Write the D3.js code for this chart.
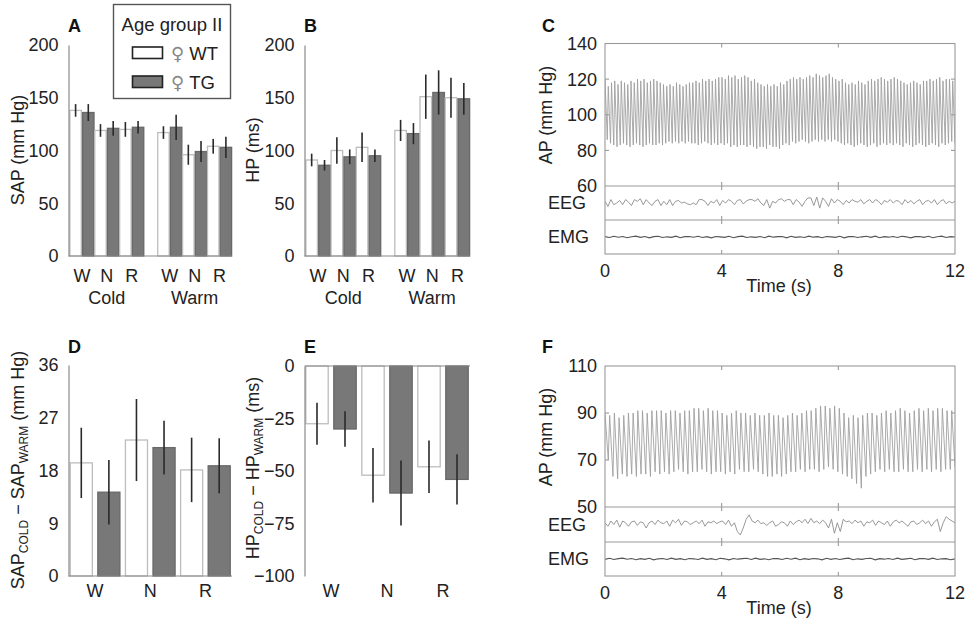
<!DOCTYPE html>
<html>
<head>
<meta charset="utf-8">
<script src="https://cdn.jsdelivr.net/npm/d3@7"></script>
<style>
  body { margin: 0; background: #fff; }
  svg { font-family: "Liberation Sans", Arial, Helvetica, sans-serif; }
</style>
</head>
<body>
<svg id="fig" width="969" height="623"></svg>
<script>
// ---------- categories ----------
const conditions = ["W", "N", "R"];
const temps = ["Cold", "Warm"];
const genotypes = ["WT", "TG"];

// ---------- A: SAP (mm Hg), Cold W,N,R then Warm W,N,R ----------
const sapWT = [138, 119, 120, 117, 96, 104];
const sapWTerr = [6, 6, 7, 6, 9.5, 7];
const sapTG = [136, 121, 122, 122, 99, 103];
const sapTGerr = [8, 7, 6, 12, 10, 10];

// ---------- B: HP (ms) ----------
const hpWT = [91, 100, 103, 119, 151, 150];
const hpWTerr = [6, 12.5, 14, 10, 21, 19];
const hpTG = [86, 94, 95, 116, 155, 149];
const hpTGerr = [5, 7, 6, 10, 21, 15];

// ---------- D: SAP cold - warm (mm Hg), W,N,R ----------
const dSapWT = [19.3, 23.2, 18.1];
const dSapWTerr = [6.0, 7.0, 5.5];
const dSapTG = [14.3, 21.9, 18.8];
const dSapTGerr = [5.5, 4.6, 4.7];

// ---------- E: HP cold - warm (ms), W,N,R ----------
const dHpWT = [-27.5, -52, -48];
const dHpWTerr = [10, 13, 12.5];
const dHpTG = [-30, -60.5, -54];
const dHpTGerr = [8.5, 15.5, 12];

// ---------- tick labels ----------
const sapTicks = [0, 50, 100, 150, 200];
const hpTicks = [0, 50, 100, 150, 200];
const dSapTicks = [0, 9, 18, 27, 36];
const dHpTicks = [0, -25, -50, -75, -100];
const timeTicks = [0, 4, 8, 12];
const apTicksC = [60, 80, 100, 120, 140];
const apTicksF = [50, 70, 90, 110];

// ---------- C: beat-by-beat systolic / diastolic AP (mm Hg), 0-12 s ----------
const apPeakC = [
  120,116,118,119,117,119,118,117,119,
  118,120,119,120,118,119,120,119,118,
  117,116,117,116,118,117,116,117,118,
  118,119,118,120,119,120,119,120,121,
  121,120,122,121,122,120,121,122,121,
  119,120,118,117,116,117,116,117,116,
  118,117,119,120,121,120,121,120,121,
  122,121,123,122,121,122,123,121,120,
  119,120,118,117,118,117,119,118,117,
  119,120,119,120,121,120,119,120,121,
  120,119,118,117,118,119,118,117,119,
  119,120,119,120,121,119,120,120,119];
const apTroughC = [
  86,84,83,82,83,84,83,82,83,
  84,83,82,83,84,83,83,84,83,
  84,85,84,85,84,85,84,85,84,
  84,83,84,85,84,83,84,83,84,
  83,84,82,83,82,83,83,82,83,
  82,81,82,82,81,83,82,82,81,
  83,84,83,85,84,85,86,85,84,
  85,86,85,86,85,86,85,86,85,
  84,83,84,83,82,83,84,83,82,
  83,84,82,83,84,83,84,83,84,
  83,82,84,83,82,83,84,83,82,
  83,84,83,82,84,83,84,85,84];

// ---------- F: beat-by-beat systolic / diastolic AP (mm Hg), 0-12 s ----------
const apPeakF = [
  90,89,90,88,89,90,
  90,91,91,90,91,91,
  91,90,91,91,90,91,91,
  92,92,91,92,91,91,
  90,89,90,91,90,90,
  89,90,89,89,90,89,
  89,88,89,90,89,90,91,
  91,92,93,93,92,93,
  92,90,88,89,88,89,
  90,90,89,90,91,90,
  91,92,91,90,91,92,91,
  92,91,92,92,91,91];
const apTroughF = [
  70,63,62,64,63,64,
  63,64,64,63,65,64,
  65,64,65,66,65,64,65,
  65,66,65,64,65,65,
  64,65,64,66,65,65,
  66,65,64,63,63,64,
  63,64,65,65,66,65,66,
  66,65,66,67,66,65,
  64,63,62,60,58,63,
  64,65,66,65,66,65,
  65,66,65,65,66,65,66,
  65,66,65,66,66,67];

// ---------- EEG traces (normalised units), 0-12 s ----------
const eegC = [
  0.1,-0.2,0.2,-0.1,0.0,0.15,-0.1,0.2,0.05,-0.15,
  0.2,0.1,0.25,-0.1,0.2,0.0,-0.15,0.1,0.2,-0.15,
  0.1,-0.1,0.2,-0.15,0.1,0.15,0.0,0.05,-0.05,-0.1,
  0.0,-0.1,0.2,0.2,0.1,-0.15,0.1,0.0,0.2,-0.15,
  0.15,0.0,0.2,0.1,-0.1,0.15,0.2,-0.05,0.1,0.2,
  0.2,0.1,0.25,0.0,-0.15,0.2,-0.3,0.1,0.0,0.2,
  0.25,0.1,0.2,0.2,-0.1,0.2,0.05,-0.2,0.1,0.3,
  0.3,-0.15,0.35,-0.3,0.3,0.1,-0.2,0.25,0.0,0.2,
  0.1,-0.1,0.15,0.0,0.2,0.1,0.05,0.2,-0.05,0.1,
  0.2,0.0,0.2,0.1,-0.1,0.15,0.05,0.2,0.0,0.15,
  0.1,-0.1,0.2,0.0,0.15,-0.05,0.1,0.2,-0.1,0.1,
  0.15,0.0,0.2,-0.1,0.1,0.2,-0.05,0.1,0.0,0.1];
const eegF = [
  0.1,-0.1,0.2,0.0,0.25,-0.15,0.2,0.1,-0.1,0.15,
  0.2,-0.05,0.15,0.1,-0.2,0.1,0.2,0.0,0.25,0.1,
  0.05,0.2,-0.1,0.25,0.1,0.3,-0.05,0.2,0.15,0.0,
  0.1,0.2,0.05,0.25,-0.1,0.15,0.1,0.2,0.05,0.15,
  0.2,0.0,0.25,-0.1,0.1,-0.4,-0.6,-0.2,0.3,0.55,
  0.2,0.1,0.25,0.05,0.1,-0.05,0.1,0.2,-0.1,0.0,
  0.15,0.1,-0.1,0.2,0.0,0.15,0.25,0.1,0.3,0.05,
  0.35,0.1,0.2,0.05,0.25,0.1,-0.2,0.3,-0.5,0.1,
  -0.4,0.3,0.15,0.2,0.05,0.25,0.1,0.2,-0.1,0.15,
  0.1,0.25,-0.05,0.2,0.1,0.0,0.2,-0.1,0.15,0.25,
  0.1,0.2,0.05,-0.1,0.15,0.2,0.0,0.1,0.25,0.05,
  0.2,-0.1,0.15,0.3,-0.4,0.1,0.45,0.3,0.2,0.1];

// ---------- EMG traces (normalised units), 0-12 s ----------
const emgC = [
  0.02,-0.03,0.04,-0.01,0.03,-0.04,0.01,0.05,-0.02,0.03,
  -0.05,0.02,0.04,-0.03,0.01,-0.02,0.05,-0.04,0.02,0.03,
  -0.01,0.04,-0.03,0.02,-0.05,0.03,0.01,-0.02,0.04,-0.04,
  0.02,0.05,-0.03,0.01,-0.02,0.03,-0.04,0.05,-0.01,0.02,
  0.03,-0.05,0.04,-0.02,0.01,-0.03,0.05,-0.01,0.02,-0.04,
  0.03,0.01,-0.02,0.04,-0.05,0.02,0.03,-0.03,0.01,0.04,
  -0.02,0.05,-0.04,0.02,-0.01,0.03,-0.03,0.04,0.01,-0.05,
  0.02,0.03,-0.02,0.04,-0.04,0.01,0.05,-0.03,0.02,0.00];
const emgF = [
  -0.02,0.04,-0.03,0.02,0.05,-0.01,0.03,-0.04,0.02,-0.02,
  0.04,-0.05,0.01,0.03,-0.03,0.05,-0.02,0.02,-0.04,0.03,
  0.01,-0.03,0.05,-0.02,0.02,-0.04,0.04,0.01,-0.05,0.03,
  -0.01,0.02,0.04,-0.03,0.05,-0.02,0.01,-0.04,0.03,0.02,
  -0.03,0.04,-0.01,0.05,-0.04,0.02,-0.02,0.03,0.01,-0.05,
  0.04,-0.02,0.03,-0.03,0.02,0.05,-0.04,0.01,-0.02,0.03,
  0.04,-0.05,0.02,-0.01,0.03,-0.03,0.05,-0.02,0.01,0.04,
  -0.04,0.02,0.03,-0.02,0.05,-0.03,0.01,0.02,-0.04,0.01];

// ---------- styles ----------
const FS = 18;
const TEXT = "#222";
const AXIS = "#8a8a8a";
const WT_FILL = "#ffffff", WT_STROKE = "#bdbdbd";
const TG_FILL = "#787878", TG_STROKE = "#686868";
const ERR = "#2a2a2a";

const svg = d3.select("#fig");

function panelLetter(x, y, t) {
  svg.append("text").attr("x", x).attr("y", y).attr("font-size", 18)
    .attr("font-weight", "bold").attr("fill", "#111").text(t);
}

function leftAxis(y, x, ticks, labelEnd) {
  const g = svg.append("g").attr("transform", `translate(${x},0)`)
    .call(d3.axisLeft(y).tickValues(ticks).tickSize(0).tickSizeOuter(0)
      .tickPadding(x - labelEnd));
  g.select(".domain").attr("stroke", AXIS).attr("stroke-width", 1.2);
  g.selectAll("text").attr("font-size", FS).attr("fill", TEXT)
    .attr("font-family", '"Liberation Sans", Arial, sans-serif');
  return g;
}

function rotLabel(x, y, parts) {
  const t = svg.append("text")
    .attr("transform", `translate(${x},${y}) rotate(-90)`)
    .attr("text-anchor", "middle").attr("font-size", FS).attr("fill", TEXT);
  parts.forEach(p => {
    const s = t.append("tspan").text(p.t);
    if (p.sub) s.attr("font-size", 12).attr("baseline-shift", "-4");
  });
  return t;
}

function drawBars(g, data) {
  g.selectAll("rect.bar").data(data).join("rect").attr("class", "bar")
    .attr("x", d => d.x).attr("width", d => d.w)
    .attr("y", d => Math.min(d.y0, d.y1)).attr("height", d => Math.abs(d.y1 - d.y0))
    .attr("fill", d => d.g === "WT" ? WT_FILL : TG_FILL)
    .attr("stroke", d => d.g === "WT" ? WT_STROKE : TG_STROKE)
    .attr("stroke-width", 1.3);
  g.selectAll("line.err").data(data).join("line").attr("class", "err")
    .attr("x1", d => d.x + d.w / 2).attr("x2", d => d.x + d.w / 2)
    .attr("y1", d => d.eLo).attr("y2", d => d.eHi)
    .attr("stroke", ERR).attr("stroke-width", 1.6);
}

// ---------- A & B: Cold / Warm grouped bars ----------
function tempPanel(opts) {
  const { x0, x1, axisX, y, ticks, wt, wtE, tg, tgE } = opts;
  const xT = d3.scaleBand().domain(temps).range([x0, x1]).paddingInner(0.15);
  const xC = d3.scaleBand().domain(conditions).range([0, xT.bandwidth()]);
  const xG = d3.scaleBand().domain(genotypes).range([0, xC.bandwidth()])
    .paddingInner(0.1).paddingOuter(0.03);
  const data = [];
  temps.forEach((t, ti) => conditions.forEach((c, ci) => {
    const k = ti * 3 + ci;
    [["WT", wt[k], wtE[k]], ["TG", tg[k], tgE[k]]].forEach(([gn, v, e]) => {
      data.push({
        g: gn, x: xT(t) + xC(c) + xG(gn), w: xG.bandwidth(),
        y0: y(0), y1: y(v), eLo: y(v - e), eHi: y(v + e)
      });
    });
  }));
  const g = svg.append("g");
  drawBars(g, data);
  leftAxis(y, axisX, ticks, axisX - 10);
  svg.append("line").attr("x1", axisX).attr("x2", x1)
    .attr("y1", y(0)).attr("y2", y(0)).attr("stroke", AXIS).attr("stroke-width", 1.2);
  temps.forEach(t => {
    conditions.forEach(c => {
      svg.append("text").attr("x", xT(t) + xC(c) + xC.bandwidth() / 2).attr("y", 282)
        .attr("text-anchor", "middle").attr("font-size", FS).attr("fill", TEXT).text(c);
    });
    svg.append("text").attr("x", xT(t) + xT.bandwidth() / 2).attr("y", 304)
      .attr("text-anchor", "middle").attr("font-size", FS).attr("fill", TEXT).text(t);
  });
}

const yA = d3.scaleLinear().domain([0, 200]).range([256, 45]);
tempPanel({ x0: 69.5, x1: 232, axisX: 68.5, y: yA, ticks: sapTicks,
  wt: sapWT, wtE: sapWTerr, tg: sapTG, tgE: sapTGerr });
rotLabel(24, 150, [{ t: "SAP (mm Hg)" }]);
panelLetter(68, 32, "A");

const yB = d3.scaleLinear().domain([0, 200]).range([256, 45]);
tempPanel({ x0: 305.5, x1: 470, axisX: 304.5, y: yB, ticks: hpTicks,
  wt: hpWT, wtE: hpWTerr, tg: hpTG, tgE: hpTGerr });
rotLabel(259, 150, [{ t: "HP (ms)" }]);
panelLetter(304, 32, "B");

// ---------- D & E: cold minus warm ----------
function diffPanel(opts) {
  const { x0, x1, axisX, y, ticks, wt, wtE, tg, tgE, baseY } = opts;
  const xC = d3.scaleBand().domain(conditions).range([x0, x1]);
  const xG = d3.scaleBand().domain(genotypes).range([0, xC.bandwidth()])
    .paddingInner(0.2).paddingOuter(0.1);
  const data = [];
  conditions.forEach((c, ci) => {
    [["WT", wt[ci], wtE[ci]], ["TG", tg[ci], tgE[ci]]].forEach(([gn, v, e]) => {
      data.push({
        g: gn, x: xC(c) + xG(gn), w: xG.bandwidth(),
        y0: y(0), y1: y(v), eLo: y(v - e), eHi: y(v + e)
      });
    });
  });
  const g = svg.append("g");
  drawBars(g, data);
  leftAxis(y, axisX, ticks, axisX - 10);
  svg.append("line").attr("x1", axisX).attr("x2", x1 - 1)
    .attr("y1", baseY).attr("y2", baseY).attr("stroke", AXIS).attr("stroke-width", 1.2);
  conditions.forEach(c => {
    svg.append("text").attr("x", xC(c) + xC.bandwidth() / 2).attr("y", 597)
      .attr("text-anchor", "middle").attr("font-size", FS).attr("fill", TEXT).text(c);
  });
}

const yD = d3.scaleLinear().domain([0, 36]).range([576, 365]);
diffPanel({ x0: 67.5, x1: 233, axisX: 68.5, y: yD, ticks: dSapTicks,
  wt: dSapWT, wtE: dSapWTerr, tg: dSapTG, tgE: dSapTGerr, baseY: yD(0) });
rotLabel(24, 470, [{ t: "SAP" }, { t: "COLD", sub: true }, { t: " \u2212 SAP" },
  { t: "WARM", sub: true }, { t: " (mm Hg)" }]);
panelLetter(68, 353, "D");

const yE = d3.scaleLinear().domain([-100, 0]).range([576, 366]);
diffPanel({ x0: 303, x1: 471, axisX: 304.5, y: yE, ticks: dHpTicks,
  wt: dHpWT, wtE: dHpWTerr, tg: dHpTG, tgE: dHpTGerr, baseY: yE(0) });
rotLabel(259, 468, [{ t: "HP" }, { t: "COLD", sub: true }, { t: " \u2212 HP" },
  { t: "WARM", sub: true }, { t: " (ms)" }]);
panelLetter(304, 353, "E");

// ---------- legend ----------
const leg = svg.append("g");
leg.append("rect").attr("x", 113.5).attr("y", 4.5).attr("width", 117).attr("height", 94)
  .attr("fill", "#fff").attr("stroke", "#555").attr("stroke-width", 1.4);
leg.append("text").attr("x", 172).attr("y", 31).attr("text-anchor", "middle")
  .attr("font-size", 18.5).attr("fill", TEXT).text("Age group II");
genotypes.forEach((gn, i) => {
  const yy = 47 + i * 29;
  leg.append("rect").attr("x", 132.5).attr("y", yy).attr("width", 30).attr("height", 11.5)
    .attr("fill", gn === "WT" ? WT_FILL : TG_FILL).attr("stroke", "#222").attr("stroke-width", 1.6);
  const t = leg.append("text").attr("x", 171).attr("y", yy + 13)
    .attr("font-size", 18.5).attr("fill", TEXT);
  t.append("tspan").attr("fill", "#888").attr("font-family", '"DejaVu Sans", sans-serif')
    .attr("font-size", 18).text("\u2640");
  t.append("tspan").attr("dx", 5).text(gn);
});

// ---------- C & F: AP / EEG / EMG recordings ----------
function tracePanel(opts) {
  const { top, apBot, eegBot, emgBot, apDomain, apTicks, peaks, troughs, eeg, emg, letterY, labelY } = opts;
  const X0 = 605, X1 = 955;
  const x = d3.scaleLinear().domain([0, 12]).range([X0, X1]);
  const yAP = d3.scaleLinear().domain(apDomain).range([apBot, top]);
  const yEEG = d3.scaleLinear().domain([-1, 1]).range([eegBot, apBot]);
  const yEMG = d3.scaleLinear().domain([-1, 1]).range([emgBot, eegBot]);

  const clipId = "clip" + Math.round(top);
  svg.append("clipPath").attr("id", clipId).append("rect")
    .attr("x", X0).attr("y", top).attr("width", X1 - X0).attr("height", emgBot - top);
  const g = svg.append("g").attr("clip-path", `url(#${clipId})`);

  // AP: systolic peak then diastolic trough for each beat
  const n = peaks.length;
  const beatTime = d3.scaleLinear().domain([0, n - 1 + 0.7]).range([0, 12]);
  const ap = [];
  peaks.forEach((p, i) => { ap.push([i, p]); ap.push([i + 0.7, troughs[i]]); });
  g.append("path").attr("d", d3.line().x(d => x(beatTime(d[0]))).y(d => yAP(d[1]))(ap))
    .attr("fill", "none").attr("stroke", "#9c9c9c").attr("stroke-width", 0.85);

  const eegT = d3.scaleLinear().domain([0, eeg.length - 1]).range([0, 12]);
  g.append("path").attr("d", d3.line()
      .x((d, i) => x(eegT(i))).y(d => yEEG(d))(eeg))
    .attr("fill", "none").attr("stroke", "#8c8c8c").attr("stroke-width", 0.9);

  const emgT = d3.scaleLinear().domain([0, emg.length - 1]).range([0, 12]);
  g.append("path").attr("d", d3.line().x((d, i) => x(emgT(i))).y(d => yEMG(d))(emg))
    .attr("fill", "none").attr("stroke", "#555").attr("stroke-width", 1.1);

  // frames
  const fr = svg.append("g").attr("stroke", "#9a9a9a").attr("stroke-width", 1.1).attr("fill", "none");
  fr.append("rect").attr("x", X0).attr("y", top).attr("width", X1 - X0).attr("height", emgBot - top);
  [apBot, eegBot].forEach(yy => fr.append("line").attr("x1", X0).attr("x2", X1).attr("y1", yy).attr("y2", yy));
  // inward ticks on every strip edge
  [top, apBot, eegBot, emgBot].forEach((yy, k) => {
    timeTicks.slice(1, -1).forEach(tv => {
      if (k < 3) fr.append("line").attr("x1", x(tv)).attr("x2", x(tv)).attr("y1", yy).attr("y2", yy + 4);
      if (k > 0) fr.append("line").attr("x1", x(tv)).attr("x2", x(tv)).attr("y1", yy).attr("y2", yy - 4);
    });
  });
  apTicks.slice(1, -1).forEach(v => {
    fr.append("line").attr("x1", X0).attr("x2", X0 + 4).attr("y1", yAP(v)).attr("y2", yAP(v));
    fr.append("line").attr("x1", X1).attr("x2", X1 - 4).attr("y1", yAP(v)).attr("y2", yAP(v));
  });

  // AP tick labels
  apTicks.forEach(v => {
    svg.append("text").attr("x", 597).attr("y", yAP(v)).attr("dy", "0.36em")
      .attr("text-anchor", "end").attr("font-size", FS).attr("fill", TEXT).text(v);
  });
  // strip names
  svg.append("text").attr("x", 548).attr("y", (apBot + eegBot) / 2).attr("dy", "0.36em")
    .attr("font-size", FS).attr("fill", TEXT).text("EEG");
  svg.append("text").attr("x", 548).attr("y", (eegBot + emgBot) / 2).attr("dy", "0.36em")
    .attr("font-size", FS).attr("fill", TEXT).text("EMG");
  // time axis labels
  timeTicks.forEach(tv => {
    svg.append("text").attr("x", x(tv)).attr("y", emgBot + 23)
      .attr("text-anchor", "middle").attr("font-size", FS).attr("fill", TEXT).text(tv);
  });
  svg.append("text").attr("x", 779).attr("y", emgBot + 38)
    .attr("text-anchor", "middle").attr("font-size", FS).attr("fill", TEXT).text("Time (s)");
  rotLabel(552, labelY, [{ t: "AP (mm Hg)" }]);
  panelLetter(542, letterY, opts.letter);
}

tracePanel({ top: 43.5, apBot: 186, eegBot: 220, emgBot: 254, apDomain: [60, 140],
  apTicks: apTicksC, peaks: apPeakC, troughs: apTroughC, eeg: eegC, emg: emgC,
  letterY: 32, labelY: 115, letter: "C" });
tracePanel({ top: 366, apBot: 507, eegBot: 542, emgBot: 576, apDomain: [50, 110],
  apTicks: apTicksF, peaks: apPeakF, troughs: apTroughF, eeg: eegF, emg: emgF,
  letterY: 353, labelY: 437, letter: "F" });
</script>
</body>
</html>
